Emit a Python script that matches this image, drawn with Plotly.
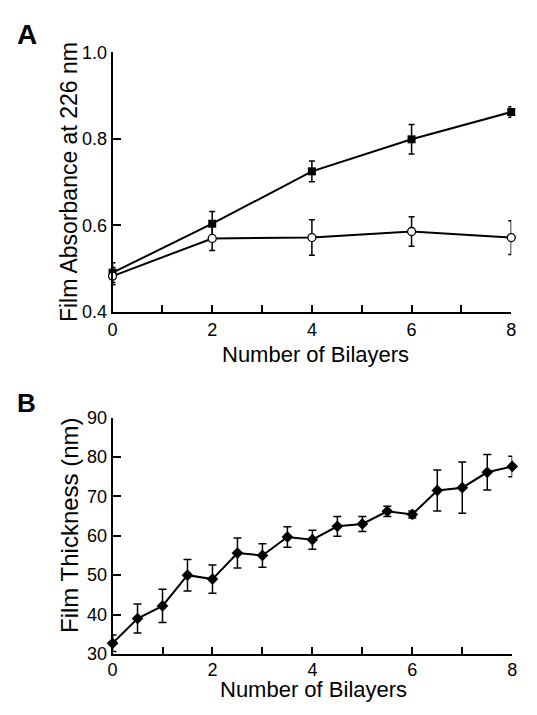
import plotly.graph_objects as go

# ---------------- data ----------------
# Panel A: film absorbance at 226 nm vs number of bilayers
a_x = [0, 2, 4, 6, 8]
a_filled = [0.491, 0.604, 0.725, 0.799, 0.862]
a_filled_err = [0.023, 0.028, 0.024, 0.034, 0.012]
a_open = [0.483, 0.570, 0.572, 0.586, 0.572]
a_open_err = [0.020, 0.028, 0.041, 0.034, 0.039]

# Panel B: film thickness vs number of bilayers
b_x = [0, 0.5, 1, 1.5, 2, 2.5, 3, 3.5, 4, 4.5, 5, 5.5, 6, 6.5, 7, 7.5, 8]
b_y = [32.7, 39.0, 42.2, 50.0, 49.0, 55.6, 55.0, 59.7, 59.0, 62.4, 63.0, 66.2, 65.4, 71.5, 72.2, 76.1, 77.6]
b_err = [2.1, 3.7, 4.2, 4.0, 3.6, 3.8, 3.0, 2.6, 2.4, 2.5, 1.9, 1.3, 0.9, 5.2, 6.5, 4.5, 2.6]

a_yticks = [0.4, 0.6, 0.8, 1.0]
a_yticktext = ["0.4", "0.6", "0.8", "1.0"]
b_yticks = [30, 40, 50, 60, 70, 80, 90]
x_ticks = [0, 2, 4, 6, 8]

x_title = "Number of Bilayers"
a_ytitle = "Film Absorbance at 226 nm"
b_ytitle = "Film Thickness (nm)"

# page is 537x715; the browser body keeps its default 8px margin
PAGE_W, PAGE_H, OFF = 537, 715, 8
W, H = PAGE_W - 2 * OFF, PAGE_H - 2 * OFF
FONT = "Liberation Sans, Arial, sans-serif"

fig = go.Figure()

fig.add_trace(go.Scatter(
    x=a_x, y=a_filled, mode="lines+markers",
    line=dict(color="black", width=2),
    marker=dict(symbol="square", size=8, color="black"),
    error_y=dict(type="data", array=a_filled_err, color="black", thickness=1.5, width=3),
    xaxis="x", yaxis="y", cliponaxis=False, showlegend=False,
))
fig.add_trace(go.Scatter(
    x=a_x, y=a_open, mode="lines+markers",
    line=dict(color="black", width=2),
    marker=dict(symbol="circle", size=8, color="white", line=dict(color="black", width=1.3)),
    error_y=dict(type="data", array=a_open_err, color="black", thickness=1.5, width=3),
    xaxis="x", yaxis="y", cliponaxis=False, showlegend=False,
))
fig.add_trace(go.Scatter(
    x=b_x, y=b_y, mode="lines+markers",
    line=dict(color="black", width=2),
    marker=dict(symbol="diamond", size=9, color="black"),
    error_y=dict(type="data", array=b_err, color="black", thickness=1.5, width=4),
    xaxis="x2", yaxis="y2", cliponaxis=False, showlegend=False,
))

def px_x(v):
    return (v - OFF) / W

def px_y(v):
    return 1 - (v - OFF) / H

common_x = dict(
    range=[0, 8], tickvals=x_ticks, ticks="inside", ticklen=7, tickwidth=1.5,
    tickcolor="black", showline=True, linecolor="black", linewidth=2,
    showgrid=False, zeroline=False, tickfont=dict(family=FONT, size=18, color="black"),
    minor=dict(dtick=1, ticks="inside", ticklen=7, tickwidth=1.5, tickcolor="black", showgrid=False),
)
common_y = dict(
    ticks="inside", ticklen=8, tickwidth=1.5, tickcolor="black",
    showline=True, linecolor="black", linewidth=2, showgrid=False, zeroline=False,
    tickfont=dict(family=FONT, size=18, color="black"), ticklabelstandoff=0,
)

fig.update_layout(
    width=W, height=H, margin=dict(l=0, r=0, t=0, b=0),
    paper_bgcolor="white", plot_bgcolor="white",
    xaxis=dict(domain=[px_x(109.5), px_x(516)], anchor="y", ticklabelstandoff=0, **common_x),
    yaxis=dict(domain=[px_y(310.7), px_y(43.3)], anchor="x", range=[0.4, 1.0],
               tickvals=a_yticks, ticktext=a_yticktext, **common_y),
    xaxis2=dict(domain=[px_x(109.5), px_x(517)], anchor="y2", ticklabelstandoff=-2, **common_x),
    yaxis2=dict(domain=[px_y(662.7), px_y(419.3)], anchor="x2", range=[30, 90],
                tickvals=b_yticks, **common_y),
)

ann_font = dict(family=FONT, size=22, color="black")
annotations = [
    dict(text=x_title, x=px_x(316), y=px_y(354), xref="paper", yref="paper",
         showarrow=False, font=ann_font, xanchor="center", yanchor="middle"),
    dict(text=x_title, x=px_x(314), y=px_y(699), xref="paper", yref="paper",
         showarrow=False, font=ann_font, xanchor="center", yanchor="middle"),
    dict(text=a_ytitle, x=px_x(65), y=px_y(177), xref="paper", yref="paper",
         showarrow=False, font=dict(family=FONT, size=23, color="black"),
         textangle=-90, xanchor="center", yanchor="middle"),
    dict(text=b_ytitle, x=px_x(65), y=px_y(530), xref="paper", yref="paper",
         showarrow=False, font=dict(family=FONT, size=24, color="black"),
         textangle=-90, xanchor="center", yanchor="middle"),
    dict(text="<b>A</b>", x=px_x(22.5), y=px_y(25), xref="paper", yref="paper",
         showarrow=False, font=dict(family=FONT, size=28, color="black"),
         xanchor="center", yanchor="middle"),
    dict(text="<b>B</b>", x=px_x(22), y=px_y(404), xref="paper", yref="paper",
         showarrow=False, font=dict(family=FONT, size=26, color="black"),
         xanchor="center", yanchor="middle"),
]
fig.update_layout(annotations=annotations)

fig.write_html("out.html", config=dict(displayModeBar=False))
